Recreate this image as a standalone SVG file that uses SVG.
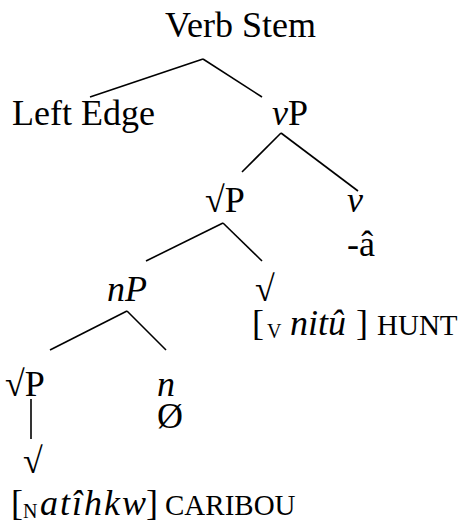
<svg xmlns="http://www.w3.org/2000/svg" width="458" height="525" viewBox="0 0 458 525">
<style>
text{font-family:"Liberation Serif","Times New Roman",serif;font-size:36px;fill:#000}
.i{font-style:italic}
.sc{font-size:29px}
.sub{font-size:20px}
.e line{stroke:#000;stroke-width:1.6;stroke-linecap:butt}
</style>
<rect width="458" height="525" fill="#fff"/>
<g class="e" id="connectors">
<line x1="203" y1="59" x2="90" y2="97"/>
<line x1="203" y1="59" x2="262" y2="97"/>
<line x1="281" y1="133" x2="242" y2="172"/>
<line x1="281" y1="133" x2="358" y2="191"/>
<line x1="223" y1="223" x2="146" y2="261"/>
<line x1="223" y1="223" x2="262" y2="261"/>
<line x1="127" y1="311" x2="50" y2="350"/>
<line x1="127" y1="311" x2="166" y2="350"/>
<line x1="31" y1="399" x2="31" y2="439"/>
</g>
<g id="verbstem"><text x="165" y="37">Verb Stem</text></g>
<g id="leftedge"><text x="12" y="125">Left Edge</text></g>
<g id="vP"><text x="272" y="125"><tspan class="i">v</tspan>P</text></g>
<g id="rootP1"><text x="205" y="212">√P</text></g>
<g id="v"><text x="347" y="212" class="i">v</text></g>
<g id="a"><text x="347" y="256">-â</text></g>
<g id="nP"><text x="107" y="301" class="i">nP</text></g>
<g id="root1"><text x="255" y="301">√</text></g>
<g id="hunt"><text y="335"><tspan x="252">[</tspan><tspan class="sub" x="267" y="338">V</tspan><tspan class="i" x="290" y="335">nitû</tspan><tspan x="356">]</tspan><tspan class="sc" x="377">HUNT</tspan></text></g>
<g id="rootP2"><text x="5" y="396">√P</text></g>
<g id="n"><text x="157" y="396" class="i">n</text></g>
<g id="null"><text x="157" y="428">Ø</text></g>
<g id="root2"><text x="23" y="473">√</text></g>
<g id="caribou"><text y="515"><tspan x="11">[</tspan><tspan class="sub" x="23" y="518">N</tspan><tspan class="i" x="40" y="515" textLength="106" lengthAdjust="spacing">atîhkw</tspan><tspan x="146">]</tspan><tspan class="sc" x="165">CARIBOU</tspan></text></g>
</svg>
